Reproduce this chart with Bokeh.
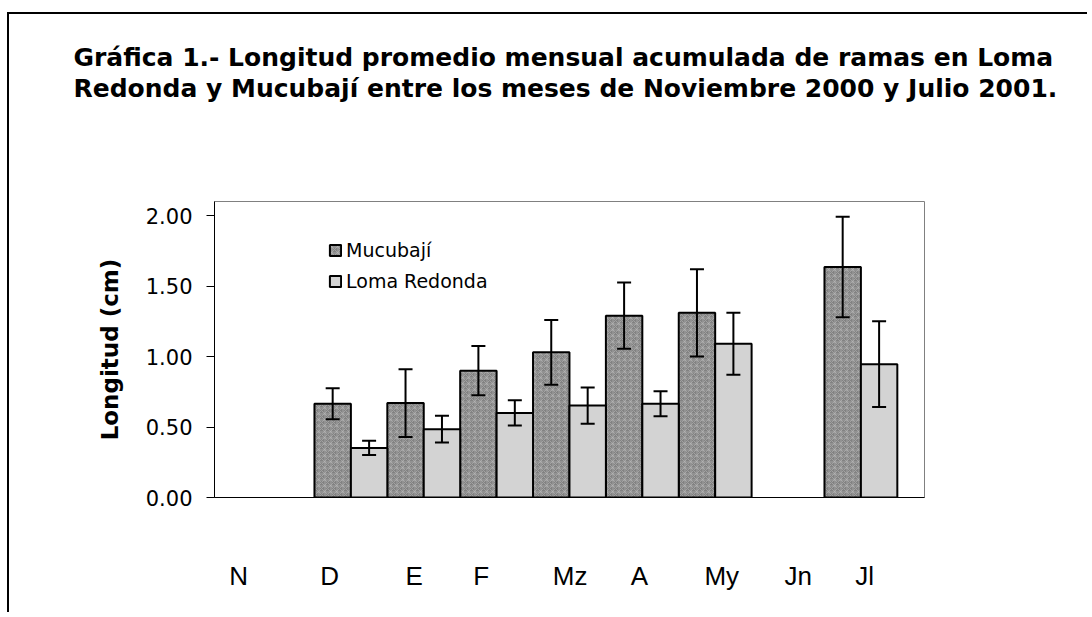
from bokeh.plotting import figure
from bokeh.models import (ColumnDataSource, FixedTicker, Whisker, TeeHead, Legend,
                          LegendItem, Title, PrintfTickFormatter, Range1d)
from bokeh.embed import file_html
from bokeh.resources import INLINE

# ---------------- data ----------------
months = ["N", "D", "E", "F", "Mz", "A", "My", "Jn", "Jl"]
muc_mean = [None, 0.665, 0.67, 0.90, 1.03, 1.29, 1.31, None, 1.635]
muc_err = [None, 0.11, 0.24, 0.175, 0.23, 0.235, 0.31, None, 0.357]
loma_mean = [None, 0.352, 0.485, 0.60, 0.652, 0.665, 1.09, None, 0.946]
loma_err = [None, 0.05, 0.095, 0.09, 0.128, 0.088, 0.22, None, 0.304]
month_label_pos = [-0.04, 1.21, 2.37, 3.29, 4.51, 5.46, 6.59, 7.64, 8.55]
y_ticks = [0.0, 0.5, 1.0, 1.5, 2.0]
title_lines = [
    "Gráfica 1.- Longitud promedio mensual acumulada de ramas en Loma",
    "Redonda y Mucubají entre los meses de Noviembre 2000 y Julio 2001.",
]
series_names = ["Mucubají", "Loma Redonda"]
y_label = "Longitud (cm)"


def build(means, errs, offset):
    xs, tops, up, lo = [], [], [], []
    for i, (m, e) in enumerate(zip(means, errs)):
        if m is None:
            continue
        xs.append(i + offset)
        tops.append(m)
        up.append(m + e)
        lo.append(m - e)
    return ColumnDataSource(dict(x=xs, top=tops, upper=up, lower=lo))


src_muc = build(muc_mean, muc_err, 0.25)
src_loma = build(loma_mean, loma_err, 0.75)

p = figure(width=1080, height=600, title=None,
           x_range=Range1d(-0.372, 9.373), y_range=Range1d(0, 2.1),
           output_backend="svg", toolbar_location=None,
           min_border_left=205, min_border_right=165,
           min_border_top=187, min_border_bottom=117,
           styles={"border-top": "2px solid #000", "border-left": "2px solid #000",
                   "margin-top": "12px", "margin-left": "7px"})
p.background_fill_color = "white"
p.border_fill_color = "white"
p.outline_line_color = "#808080"
p.outline_line_width = 1
p.xgrid.visible = False
p.ygrid.visible = False

r_muc = p.vbar(x="x", top="top", width=0.5, bottom=0, source=src_muc,
               fill_color="#828282", line_color="black", line_width=2,
               hatch_pattern="criss_cross", hatch_color="#b8b8b8",
               hatch_alpha=0.6, hatch_scale=6, hatch_weight=1)
r_loma = p.vbar(x="x", top="top", width=0.5, bottom=0, source=src_loma,
                fill_color="#d3d3d3", line_color="black", line_width=2)

for src in (src_muc, src_loma):
    w = Whisker(source=src, base="x", upper="upper", lower="lower",
                line_color="black", line_width=2, level="annotation",
                upper_head=TeeHead(size=14, line_width=2, line_color="black"),
                lower_head=TeeHead(size=14, line_width=2, line_color="black"))
    p.add_layout(w)

# y axis
yax = p.yaxis[0]
yax.ticker = FixedTicker(ticks=y_ticks)
yax.formatter = PrintfTickFormatter(format="%.2f")
yax.major_tick_out = 8
yax.major_tick_in = 0
yax.minor_tick_out = 0
yax.minor_tick_in = 0
yax.axis_line_color = "black"
yax.major_tick_line_color = "black"
yax.major_label_standoff = 14
yax.major_label_text_font = "DejaVu Sans"
yax.major_label_text_font_size = "21px"
yax.major_label_text_color = "black"
yax.axis_label = y_label
yax.axis_label_text_font = "DejaVu Sans"
yax.axis_label_text_font_style = "bold"
yax.axis_label_text_font_size = "23px"
yax.axis_label_text_color = "black"
yax.axis_label_standoff = 20

# x axis
xax = p.xaxis[0]
xax.ticker = FixedTicker(ticks=month_label_pos)
xax.major_label_overrides = {pos: m for pos, m in zip(month_label_pos, months)}
xax.major_tick_out = 0
xax.major_tick_in = 0
xax.minor_tick_out = 0
xax.minor_tick_in = 0
xax.axis_line_color = "black"
xax.major_label_standoff = 63
xax.major_label_text_font = "Liberation Sans"
xax.major_label_text_font_size = "26px"
xax.major_label_text_color = "black"

# legend
legend = Legend(items=[LegendItem(label=series_names[0], renderers=[r_muc]),
                       LegendItem(label=series_names[1], renderers=[r_loma])],
                location=(114, 205), border_line_color=None,
                background_fill_alpha=0, glyph_width=14, glyph_height=14,
                label_text_font="DejaVu Sans", label_text_font_size="19px",
                label_text_color="black",
                label_standoff=4, spacing=9, padding=0, margin=0)
p.add_layout(legend)

# title: a blank spacer next to the frame, then the two lines stacked above it
title_style = dict(align="left", offset=-141, text_font="DejaVu Sans",
                   text_font_style="bold", text_font_size="25px", text_color="black")
p.add_layout(Title(text=" ", standoff=68, **title_style), "above")
p.add_layout(Title(text=title_lines[1], standoff=0, **title_style), "above")
p.add_layout(Title(text=title_lines[0], standoff=0, **title_style), "above")

open("out.html", "w").write(file_html(p, INLINE))
